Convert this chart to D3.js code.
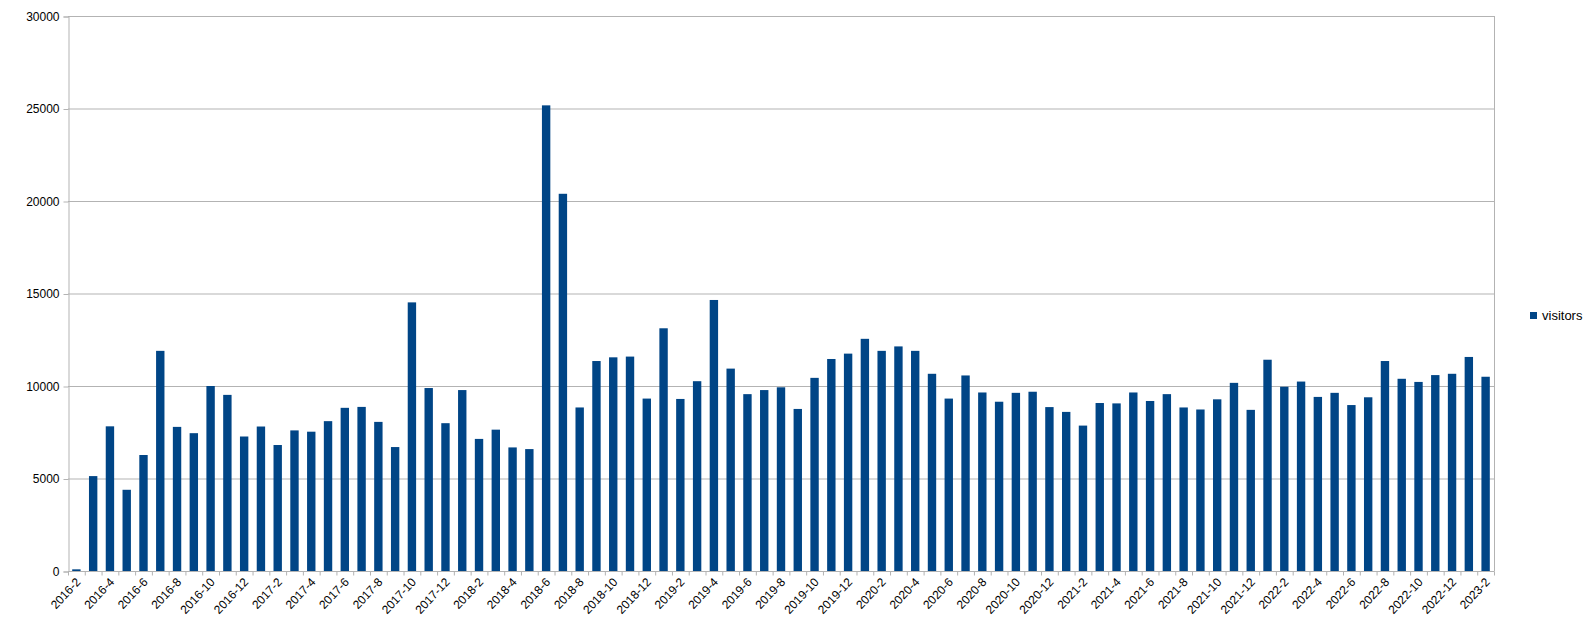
<!DOCTYPE html>
<html>
<head>
<meta charset="utf-8">
<script src="https://cdn.jsdelivr.net/npm/d3@7"></script>
<style>
  body { margin: 0; background: #fff; }
  svg { display: block; font-family: "Liberation Sans", Arial, sans-serif; }
  .grid line { stroke: #b3b3b3; stroke-width: 1; }
  .tick text { fill: #000; font-size: 12px; }
</style>
</head>
<body>
<svg id="chart" width="1587" height="632"></svg>
<script>
/* monthly visitors, 2016-2 .. 2023-2 */
const months = [
  '2016-2','2016-3','2016-4','2016-5','2016-6','2016-7','2016-8','2016-9','2016-10','2016-11','2016-12',
  '2017-1','2017-2','2017-3','2017-4','2017-5','2017-6','2017-7','2017-8','2017-9','2017-10','2017-11','2017-12',
  '2018-1','2018-2','2018-3','2018-4','2018-5','2018-6','2018-7','2018-8','2018-9','2018-10','2018-11','2018-12',
  '2019-1','2019-2','2019-3','2019-4','2019-5','2019-6','2019-7','2019-8','2019-9','2019-10','2019-11','2019-12',
  '2020-1','2020-2','2020-3','2020-4','2020-5','2020-6','2020-7','2020-8','2020-9','2020-10','2020-11','2020-12',
  '2021-1','2021-2','2021-3','2021-4','2021-5','2021-6','2021-7','2021-8','2021-9','2021-10','2021-11','2021-12',
  '2022-1','2022-2','2022-3','2022-4','2022-5','2022-6','2022-7','2022-8','2022-9','2022-10','2022-11','2022-12',
  '2023-1','2023-2'
];
const visitors = [
  90, 5130, 7820, 4390, 6270, 11900, 7790, 7450, 10000, 9520, 7270,
  7810, 6810, 7600, 7530, 8100, 8820, 8870, 8060, 6700, 14520, 9890, 7990,
  9780, 7140, 7640, 6680, 6590, 25170, 20390, 8840, 11350, 11550, 11590, 9320,
  13120, 9300, 10260, 14650, 10940, 9560, 9780, 9930, 8760, 10440, 11460, 11750,
  12550, 11900, 12140, 11900, 10660, 9320, 10570, 9650, 9150, 9630, 9690, 8860,
  8600, 7860, 9080, 9060, 9650, 9190, 9560, 8840, 8730, 9280, 10170, 8710,
  11420, 9960, 10240, 9410, 9630, 8970, 9390, 11350, 10390, 10220, 10590, 10660,
  11570, 10500
];
const yTicks = [0, 5000, 10000, 15000, 20000, 25000, 30000];
const seriesName = 'visitors';

const svg = d3.select('#chart');
const plotLeft = 68, plotRight = 1494, plotTop = 16, plotBottom = 571;
const barColor = '#004586', lineColor = '#b3b3b3';

let x = d3.scaleBand()
    .domain(months)
    .range([plotLeft, plotRight])
    .paddingInner(0.5)
    .paddingOuter(0.25);

let y = d3.scaleLinear()
    .domain([0, 30000])
    .range([plotBottom, plotTop]);

// horizontal grid lines
svg.append('g').classed('grid', true)
    .selectAll('line').data(yTicks).join('line')
    .attr('x1', plotLeft).attr('x2', plotRight)
    .attr('y1', d => y(d) + 0.5).attr('y2', d => y(d) + 0.5);

// right border of the plot area
svg.append('line')
    .attr('x1', plotRight + 0.5).attr('x2', plotRight + 0.5)
    .attr('y1', plotTop).attr('y2', plotBottom)
    .attr('stroke', lineColor);

// bars
svg.append('g').selectAll('rect').data(visitors).join('rect')
    .attr('x', (d, i) => x(months[i]))
    .attr('y', d => y(d))
    .attr('width', x.bandwidth())
    .attr('height', d => y(0) - y(d))
    .attr('fill', barColor);

// y axis
let yAxis = svg.append('g')
    .attr('transform', 'translate(' + (plotLeft + 0.5) + ',0.5)')
    .call(d3.axisLeft(y).tickValues(yTicks).tickSize(5).tickPadding(4).tickFormat(d3.format('d')));
yAxis.selectAll('.domain, line').attr('stroke', lineColor);
yAxis.selectAll('text').attr('font-size', 12).attr('font-family', '"Liberation Sans", Arial, sans-serif');

// x axis: labels every second month, ticks on category boundaries
let step = x.step();
let xAxis = svg.append('g')
    .attr('transform', 'translate(0,' + (plotBottom + 0.5) + ')')
    .call(d3.axisBottom(x).tickValues(months.filter((d, i) => i % 2 === 0)).tickSize(0).tickPadding(0));
xAxis.select('.domain').remove();
xAxis.append('line')
    .attr('x1', plotLeft).attr('x2', plotRight + 0.5)
    .attr('stroke', lineColor);
xAxis.append('g').selectAll('line').data(d3.range(months.length + 1)).join('line')
    .attr('x1', i => plotLeft + i * step + 0.5).attr('x2', i => plotLeft + i * step + 0.5)
    .attr('y1', 0).attr('y2', 4)
    .attr('stroke', lineColor);
xAxis.selectAll('.tick text')
    .attr('font-size', 13)
    .attr('font-family', '"Liberation Sans", Arial, sans-serif')
    .attr('text-anchor', 'end')
    .attr('dy', null)
    .attr('transform', 'translate(5,11) rotate(-47)');

// legend
let legend = svg.append('g').attr('transform', 'translate(1530,312)');
legend.append('rect').attr('width', 7).attr('height', 7).attr('fill', barColor);
legend.append('text').text(seriesName)
    .attr('x', 12).attr('y', 8)
    .attr('font-size', 13)
    .attr('fill', '#000');
</script>
</body>
</html>
